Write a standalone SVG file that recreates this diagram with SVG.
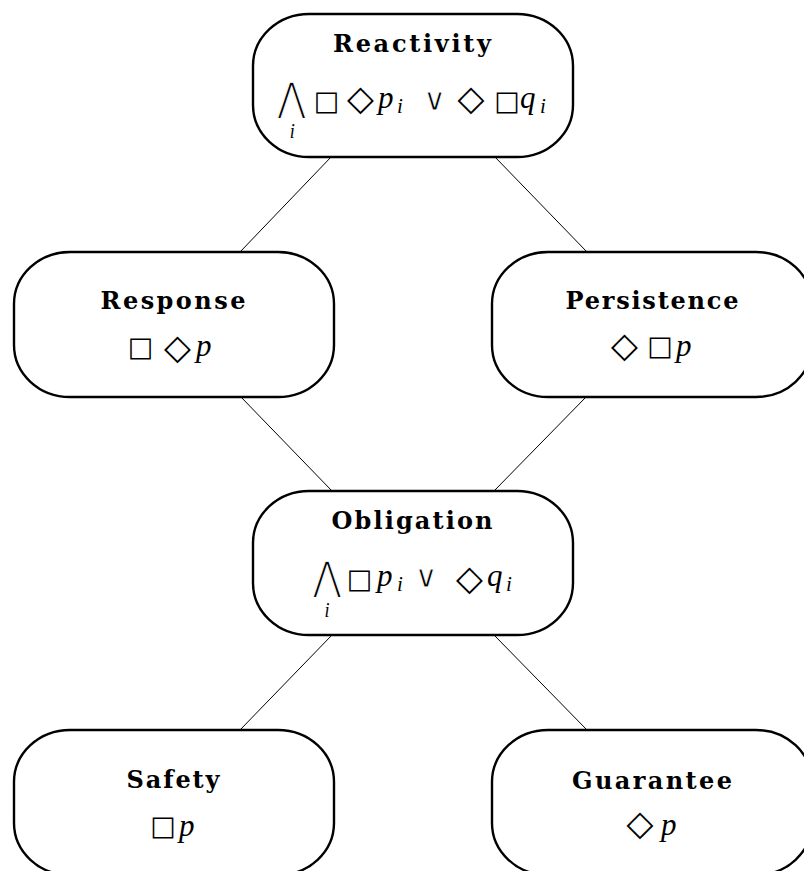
<svg xmlns="http://www.w3.org/2000/svg" width="804" height="871" viewBox="0 0 804 871">
<style>
.node{fill:#fff;stroke:#000;stroke-width:2.4}
.title{font-family:"DejaVu Serif",serif;font-weight:bold;font-size:24px;text-anchor:middle;fill:#000}
.f{fill:#000}
.sym{font-family:"DejaVu Sans",sans-serif;text-anchor:middle}
.box{font-size:27px}
.dia{font-size:35px}
.big{font-family:"DejaVu Sans",sans-serif;font-size:40px;text-anchor:middle;fill:#000;stroke:#fff;stroke-width:1.2px}
.or{font-family:"DejaVu Sans",sans-serif;font-size:31px;text-anchor:middle;stroke:#fff;stroke-width:0.8px}
.it{font-family:"Liberation Serif",serif;font-style:italic;font-size:31px;text-anchor:start;stroke:none}
.sub{font-family:"Liberation Serif",serif;font-style:italic;font-size:21px;text-anchor:start;stroke:none}
.bsub{font-family:"Liberation Serif",serif;font-style:italic;font-size:21px;text-anchor:middle;stroke:none}
.conn line{stroke:#000;stroke-width:1}
</style>
<rect width="804" height="871" fill="#fff"/>
<g class="conn" id="connectors">
<line x1="332" y1="156" x2="240" y2="252"/>
<line x1="494" y1="156" x2="587" y2="252"/>
<line x1="240" y1="396" x2="332" y2="491"/>
<line x1="587" y1="396" x2="494" y2="491"/>
<line x1="332" y1="635" x2="240" y2="730"/>
<line x1="494" y1="635" x2="587" y2="730"/>
</g>
<g id="reactivity">
<rect class="node" x="253" y="14" width="320" height="143" rx="56" ry="52"/>
<text class="title" x="412" y="52" textLength="158" lengthAdjust="spacing">Reactivity</text>
<text class="big" transform="translate(291.5,110.8) scale(0.86,1)"><tspan x="0" y="0">⋀</tspan><tspan class="bsub" x="1" y="27.2">i</tspan></text>
<text class="f"><tspan class="sym box" x="326.5" y="109.5">□</tspan><tspan class="sym dia" x="360.5" y="109.5">◇</tspan><tspan class="it" x="378" y="108">p</tspan><tspan class="sub" x="397" y="113">i</tspan><tspan class="or" x="434.5" y="110">∨</tspan><tspan class="sym dia" x="471" y="109.5">◇</tspan><tspan class="sym box" x="507" y="109.5">□</tspan><tspan class="it" x="520" y="108">q</tspan><tspan class="sub" x="540" y="113">i</tspan></text>
</g>
<g id="response">
<rect class="node" x="14" y="252" width="320" height="145" rx="56" ry="52"/>
<text class="title" x="173" y="308.5" textLength="145" lengthAdjust="spacing">Response</text>
<text class="f"><tspan class="sym box" x="140.5" y="356.3">□</tspan><tspan class="sym dia" x="177.5" y="358.5">◇</tspan><tspan class="it" x="196" y="356">p</tspan></text>
</g>
<g id="persistence">
<rect class="node" x="492" y="252" width="320" height="145" rx="56" ry="52"/>
<text class="title" x="652" y="309" textLength="173" lengthAdjust="spacing">Persistence</text>
<text class="f"><tspan class="sym dia" x="624.5" y="356.5">◇</tspan><tspan class="sym box" x="660" y="355.3">□</tspan><tspan class="it" x="676" y="356">p</tspan></text>
</g>
<g id="obligation">
<rect class="node" x="253" y="491" width="320" height="144" rx="56" ry="52"/>
<text class="title" x="412" y="528.5" textLength="161" lengthAdjust="spacing">Obligation</text>
<text class="big" transform="translate(327,589.8) scale(0.86,1)"><tspan x="0" y="0">⋀</tspan><tspan class="bsub" x="0" y="27.2">i</tspan></text>
<text class="f"><tspan class="sym box" x="359.5" y="588.3">□</tspan><tspan class="it" x="377" y="586">p</tspan><tspan class="sub" x="397" y="591">i</tspan><tspan class="or" x="426" y="587">∨</tspan><tspan class="sym dia" x="469.5" y="589.5">◇</tspan><tspan class="it" x="487" y="586">q</tspan><tspan class="sub" x="506" y="591">i</tspan></text>
</g>
<g id="safety">
<rect class="node" x="14" y="730" width="320" height="145" rx="56" ry="52"/>
<text class="title" x="173" y="788" textLength="93" lengthAdjust="spacing">Safety</text>
<text class="f"><tspan class="sym box" x="163" y="835.3">□</tspan><tspan class="it" x="179" y="836">p</tspan></text>
</g>
<g id="guarantee">
<rect class="node" x="492" y="730" width="320" height="145" rx="56" ry="52"/>
<text class="title" x="652" y="788.5" textLength="160" lengthAdjust="spacing">Guarantee</text>
<text class="f"><tspan class="sym dia" x="640" y="834.5">◇</tspan><tspan class="it" x="661" y="835">p</tspan></text>
</g>
</svg>
